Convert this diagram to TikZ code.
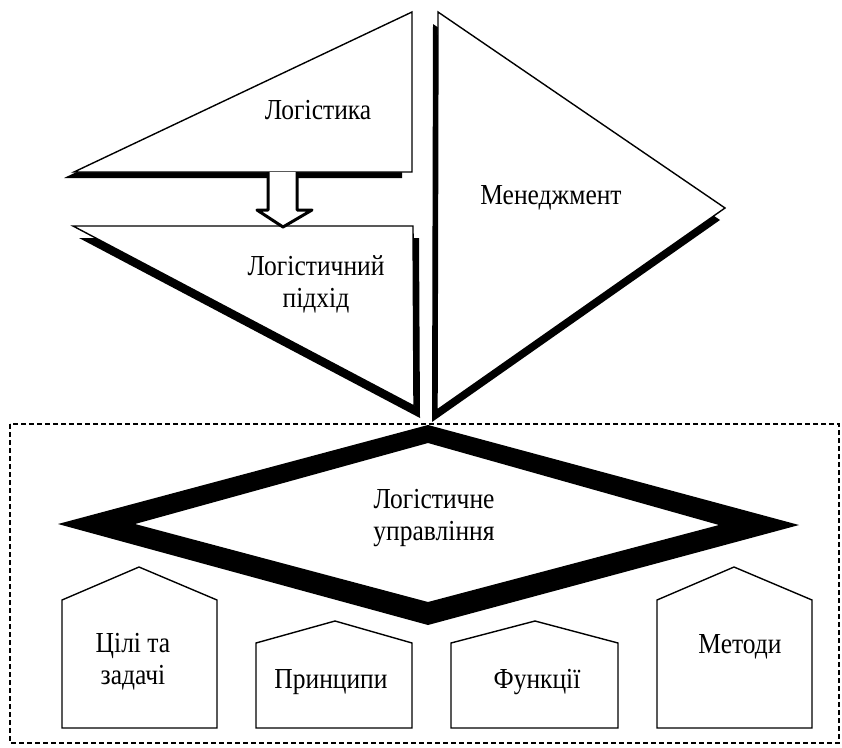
\documentclass[tikz,border=0pt]{standalone}
\usepackage{fontspec}
\setmainfont{Liberation Serif}[FakeStretch=0.88]
\begin{document}
\begin{tikzpicture}[x=1pt,y=-1pt,
  outline/.style={draw=black, line width=1.4pt, fill=white, line join=miter},
  shadowfill/.style={fill=black},
  lbl/.style={font=\fontsize{29}{32}\selectfont, align=center, inner sep=0pt},
  frame/.style={draw=black, line width=1.4pt, dash pattern=on 5pt off 3pt},
  hollow/.style={draw=black, line width=3pt, fill=white, line join=round}]
\useasboundingbox (0,0) rectangle (842,747);

% ---- Logistics triangle
\coordinate (la) at (74,172); \coordinate (lb) at (412,12); \coordinate (lc) at (412,172);
\fill[shadowfill] ([shift={(-10,6)}]la) -- ([shift={(-10,6)}]lb) -- ([shift={(-10,6)}]lc) -- cycle;
\draw[outline] (la) -- (lb) -- (lc) -- cycle;
\node[lbl] (logistics) at (318,110) {Логістика};

% ---- Logistic approach triangle
\coordinate (pa) at (73,226); \coordinate (pb) at (413,226); \coordinate (pc) at (414,406);
\fill[shadowfill] ([shift={(6,12)}]pa) -- ([shift={(6,12)}]pb) -- ([shift={(6,12)}]pc) -- cycle;
\draw[outline] (pa) -- (pb) -- (pc) -- cycle;
\node[lbl] (approach) at (316,284) {Логістичний\\підхід};

% ---- Management triangle
\coordinate (ma) at (438,12); \coordinate (mb) at (725,208); \coordinate (mc) at (437,410);
\fill[shadowfill] ([shift={(-5,12)}]ma) -- ([shift={(-5,12)}]mb) -- ([shift={(-5,12)}]mc) -- cycle;
\draw[outline] (ma) -- (mb) -- (mc) -- cycle;
\node[lbl] (management) at (551,198) {Менеджмент};

% ---- hollow arrow from Logistics to Logistic approach
\draw[hollow] (268,172) -- (268,210) -- (257,210) -- (283,227) -- (312,210) -- (297,210) -- (297,172);

% ---- dashed frame
\draw[frame] (10,424) rectangle (839,743);

% ---- diamond
\fill[shadowfill, even odd rule]
  (58,524) -- (428,425) -- (799,525) -- (428,625) -- cycle
  (135,524) -- (428,443) -- (719,525) -- (428,602) -- cycle;
\node[lbl] (control) at (434,518) {Логістичне\\управління};

% ---- houses
\draw[outline] (62,728) -- (62,600) -- (139,567) -- (217,600) -- (217,728) -- cycle;
\node[lbl] (goals) at (133,662) {Цілі та\\задачі};
\draw[outline] (256,728) -- (256,643) -- (335,621) -- (412,643) -- (412,728) -- cycle;
\node[lbl] (principles) at (331,682) {Принципи};
\draw[outline] (451,728) -- (451,643) -- (535,621) -- (618,643) -- (618,728) -- cycle;
\node[lbl] (functions) at (537,682) {Функції};
\draw[outline] (657,728) -- (657,600) -- (734,567) -- (812,600) -- (812,728) -- cycle;
\node[lbl] (methods) at (740,647) {Методи};
\end{tikzpicture}
\end{document}
